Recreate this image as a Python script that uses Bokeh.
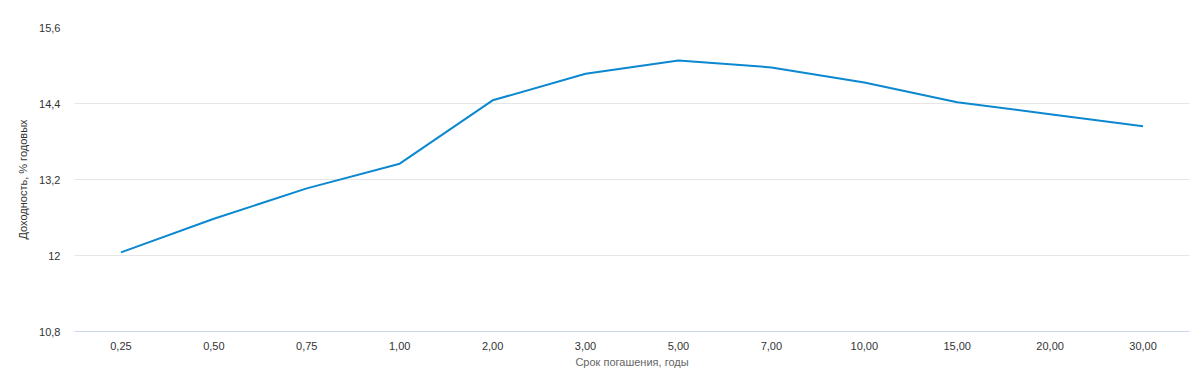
from bokeh.plotting import figure
from bokeh.models import FixedTicker, ColumnDataSource
from bokeh.embed import file_html
from bokeh.resources import INLINE

categories = ["0,25", "0,50", "0,75", "1,00", "2,00", "3,00", "5,00", "7,00", "10,00", "15,00", "20,00", "30,00"]
yields = [12.05, 12.58, 13.06, 13.45, 14.45, 14.87, 15.08, 14.97, 14.73, 14.42, 14.23, 14.04]
y_ticks = [10.8, 12.0, 13.2, 14.4, 15.6]
y_tick_labels = ["10,8", "12", "13,2", "14,4", "15,6"]

FONT = "Liberation Sans"

source = ColumnDataSource(dict(x=categories, y=yields))

p = figure(x_range=categories, y_range=(10.8, 15.6), width=1200, height=375,
           output_backend="svg", toolbar_location=None,
           min_border_left=74, min_border_right=11, min_border_top=27, min_border_bottom=44)
p.outline_line_color = None
p.background_fill_color = "white"
p.border_fill_color = "white"

p.line("x", "y", source=source, line_color="#0b88d0", line_width=2)

p.yaxis.ticker = FixedTicker(ticks=y_ticks)
p.yaxis.major_label_overrides = {t: l for t, l in zip(y_ticks, y_tick_labels)}
p.yaxis.axis_line_color = None
p.yaxis.major_tick_line_color = None
p.yaxis.minor_tick_line_color = None
p.yaxis.major_label_text_font = FONT
p.yaxis.major_label_text_font_size = "11px"
p.yaxis.major_label_text_color = "#333333"
p.yaxis.major_label_standoff = 8
p.yaxis.axis_label = "Доходность, % годовых"
p.yaxis.axis_label_text_font = FONT
p.yaxis.axis_label_text_font_size = "11px"
p.yaxis.axis_label_text_font_style = "normal"
p.yaxis.axis_label_text_color = "#333333"
p.yaxis.axis_label_standoff = 7

p.xaxis.axis_line_color = "#ccd6eb"
p.xaxis.major_tick_line_color = None
p.xaxis.minor_tick_line_color = None
p.xaxis.major_label_text_font = FONT
p.xaxis.major_label_text_font_size = "11px"
p.xaxis.major_label_text_color = "#333333"
p.xaxis.major_label_standoff = 4
p.xaxis.axis_label = "Срок погашения, годы"
p.xaxis.axis_label_text_font = FONT
p.xaxis.axis_label_text_font_size = "11px"
p.xaxis.axis_label_text_font_style = "normal"
p.xaxis.axis_label_text_color = "#666666"
p.xaxis.axis_label_standoff = 3

p.xgrid.grid_line_color = None
p.ygrid.grid_line_color = "#e6e6e6"
p.ygrid.grid_line_width = 1

open("out.html", "w").write(file_html(p, INLINE))
